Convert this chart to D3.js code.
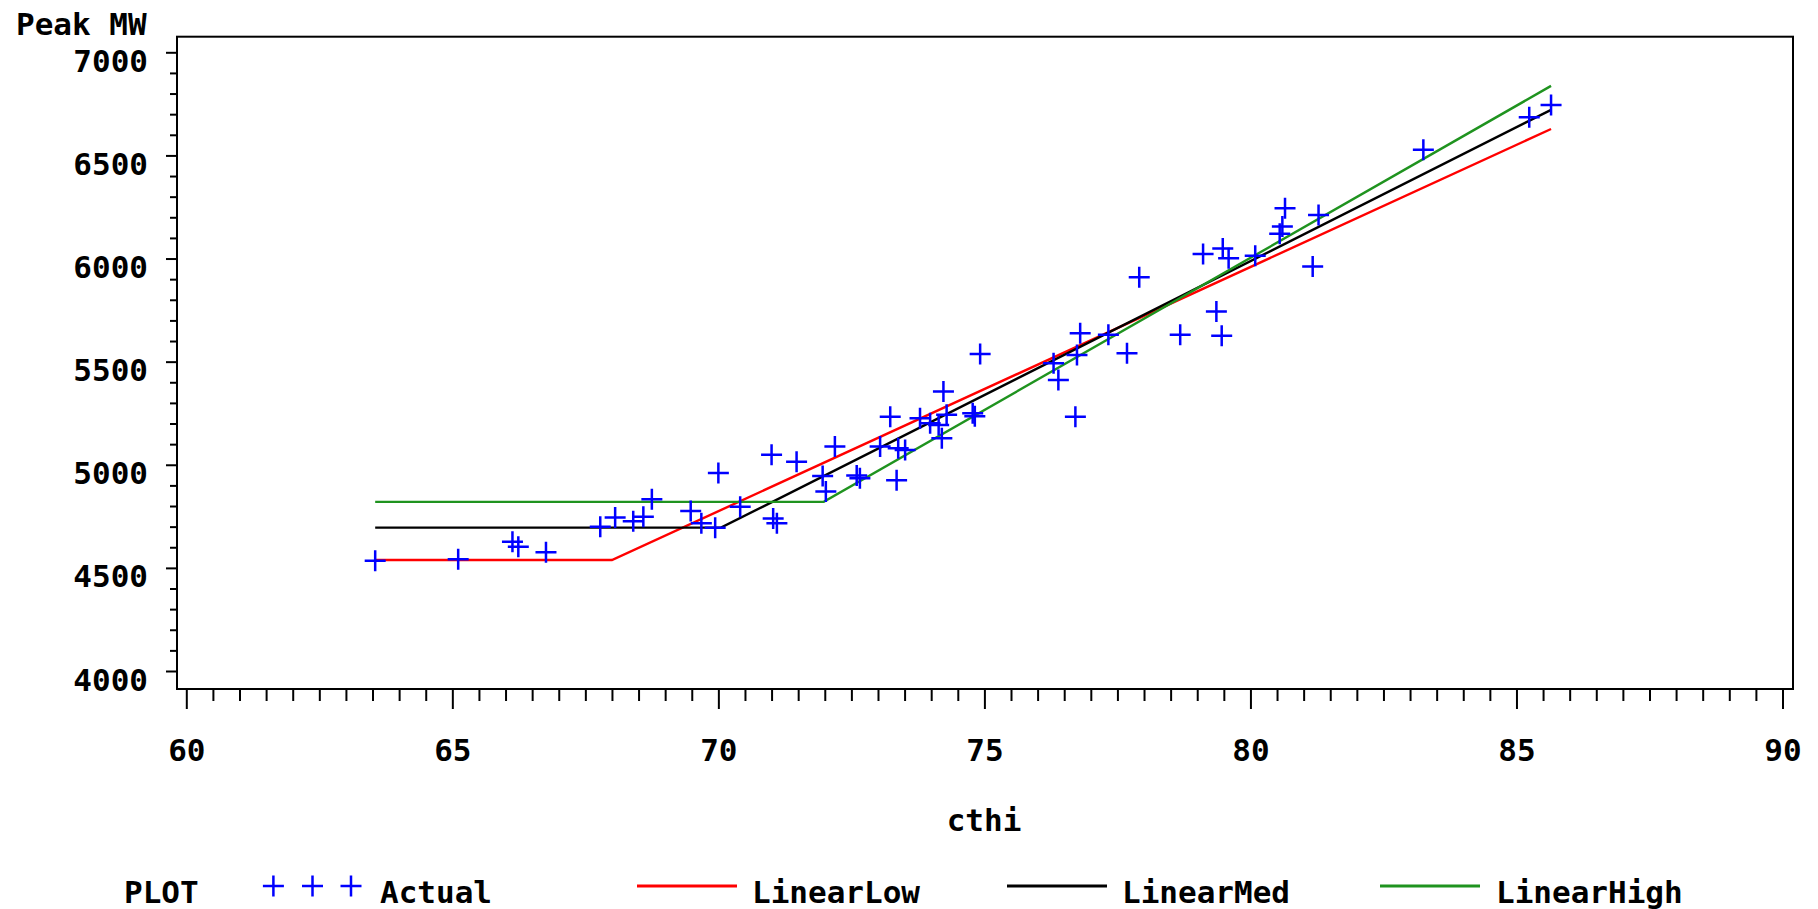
<!DOCTYPE html>
<html>
<head>
<meta charset="utf-8">
<script src="https://cdn.jsdelivr.net/npm/d3@7"></script>
<style>
  html, body { margin: 0; padding: 0; background: #ffffff; }
  svg { display: block; }
  text { font-family: "DejaVu Sans Mono", "Liberation Mono", monospace; font-weight: bold; fill: #000; }
</style>
</head>
<body>
<svg id="chart" width="1818" height="909"></svg>
<script>
// Observed daily peak load against cooling temperature-humidity index
const cthi = [
  63.55, 65.11, 66.13, 66.24, 66.76, 67.78, 68.06, 68.40, 68.59, 68.75,
  69.48, 69.68, 69.94, 70.00, 70.41, 71.00, 71.03, 71.10, 71.47, 71.96,
  72.02, 72.19, 72.60, 72.66, 73.04, 73.23, 73.35, 73.38, 73.51, 73.79,
  73.98, 74.14, 74.20, 74.23, 74.29, 74.78, 74.82, 74.92, 76.30, 76.39,
  76.71, 76.74, 76.80, 77.33, 77.68, 77.91, 78.68, 79.11, 79.36, 79.46,
  79.48, 79.59, 80.09, 80.55, 80.60, 80.65, 81.17, 81.28, 83.25, 85.24,
  85.65
];
const peakMW = [
  4535, 4542, 4627, 4603, 4576, 4700, 4744, 4726, 4748, 4833,
  4776, 4716, 4695, 4960, 4797, 5048, 4740, 4716, 5015, 4945,
  4870, 5088, 4948, 4935, 5088, 5233, 4925, 5080, 5072, 5225,
  5201, 5193, 5128, 5355, 5242, 5250, 5235, 5537, 5492, 5411,
  5233, 5532, 5638, 5630, 5541, 5909, 5630, 6022, 5743, 5626,
  6049, 6001, 6013, 6120, 6155, 6244, 5961, 6211, 6527, 6685,
  6745
];

// Piecewise-linear fits: flat base load, then a linear rise above a threshold
const lowX  = [63.55, 68.00, 85.65];
const lowY  = [4538, 4538, 6628];
const medX  = [63.55, 70.05, 85.65];
const medY  = [4695, 4695, 6721];
const highX = [63.55, 71.98, 85.65];
const highY = [4820, 4820, 6837];

const xTicks = [60, 65, 70, 75, 80, 85, 90];
const yTicks = [4000, 4500, 5000, 5500, 6000, 6500, 7000];
const seriesNames = ["Actual", "LinearLow", "LinearMed", "LinearHigh"];

const colors = { low: "#ff0000", med: "#000000", high: "#1f931f", pts: "#0000ff" };

const svg = d3.select("#chart");
const frame = { left: 177, top: 36.7, right: 1793, bottom: 689 };

const x = d3.scaleLinear().domain([60, 90]).range([186.3, 1782.5]);
const y = d3.scaleLinear().domain([4000, 7000]).range([671, 52.3]);

// plot frame
svg.append("rect")
  .attr("x", frame.left).attr("y", frame.top)
  .attr("width", frame.right - frame.left).attr("height", frame.bottom - frame.top)
  .attr("fill", "none").attr("stroke", "#000").attr("stroke-width", 2);

// x axis: minor ticks every 0.5, major every 5
const xMinor = d3.range(60, 90.01, 0.5).filter(v => v % 5 !== 0);
const gxMinor = svg.append("g").attr("transform", `translate(0,${frame.bottom})`)
  .call(d3.axisBottom(x).tickValues(xMinor).tickSize(12).tickFormat(""));
const gx = svg.append("g").attr("transform", `translate(0,${frame.bottom})`)
  .call(d3.axisBottom(x).tickValues(xTicks).tickSize(20).tickFormat(d3.format("d")));
[gxMinor, gx].forEach(g => {
  g.select(".domain").remove();
  g.selectAll("line").attr("stroke", "#000").attr("stroke-width", 2);
});
gx.selectAll("text")
  .attr("y", 72).attr("dy", 0)
  .style("font-size", "31px").attr("fill", "#000");

// y axis: minor ticks every 100, major every 500
const yMinor = d3.range(4000, 7000.1, 100).filter(v => v % 500 !== 0);
const gyMinor = svg.append("g").attr("transform", `translate(${frame.left},0)`)
  .call(d3.axisLeft(y).tickValues(yMinor).tickSize(7).tickFormat(""));
const gy = svg.append("g").attr("transform", `translate(${frame.left},0)`)
  .call(d3.axisLeft(y).tickValues(yTicks).tickSize(11).tickPadding(18).tickFormat(d3.format("d")));
[gyMinor, gy].forEach(g => {
  g.select(".domain").remove();
  g.selectAll("line").attr("stroke", "#000").attr("stroke-width", 2);
});
gy.selectAll("text")
  .attr("dy", 19)
  .style("font-size", "31px").attr("fill", "#000");

// axis titles
svg.append("text").attr("x", 16).attr("y", 35)
  .style("font-size", "31px").text("Peak MW");
svg.append("text").attr("x", 984).attr("y", 831).attr("text-anchor", "middle")
  .style("font-size", "31px").text("cthi");

// fitted lines
const line = d3.line().x(d => x(d[0])).y(d => y(d[1]));
const fits = [
  { xs: lowX, ys: lowY, color: colors.low },
  { xs: medX, ys: medY, color: colors.med },
  { xs: highX, ys: highY, color: colors.high }
];
fits.forEach(f => {
  svg.append("path")
    .datum(d3.zip(f.xs, f.ys))
    .attr("d", line)
    .attr("fill", "none")
    .attr("stroke", f.color)
    .attr("stroke-width", 2.4);
});

// plus markers for observations
const half = 10.5;
const plus = (cx, cy) => `M${cx - half},${cy}H${cx + half}M${cx},${cy - half}V${cy + half}`;
svg.append("g").selectAll("path")
  .data(d3.zip(cthi, peakMW))
  .join("path")
  .attr("d", d => plus(x(d[0]), y(d[1])))
  .attr("fill", "none")
  .attr("stroke", colors.pts)
  .attr("stroke-width", 2.5);

// legend
const ly = 886, lbase = 903;
const legend = svg.append("g");
legend.append("text").attr("x", 124).attr("y", lbase).style("font-size", "31px").text("PLOT");
[273.4, 312.5, 351].forEach(cx => {
  legend.append("path").attr("d", plus(cx, ly))
    .attr("fill", "none").attr("stroke", colors.pts).attr("stroke-width", 2.5);
});
legend.append("text").attr("x", 380).attr("y", lbase).style("font-size", "31px").text(seriesNames[0]);
const legendLines = [
  { x0: 637, x1: 737, tx: 752, color: colors.low, name: seriesNames[1] },
  { x0: 1007, x1: 1107, tx: 1122, color: colors.med, name: seriesNames[2] },
  { x0: 1380, x1: 1480, tx: 1496, color: colors.high, name: seriesNames[3] }
];
legendLines.forEach(l => {
  legend.append("line").attr("x1", l.x0).attr("x2", l.x1).attr("y1", ly).attr("y2", ly)
    .attr("stroke", l.color).attr("stroke-width", 3);
  legend.append("text").attr("x", l.tx).attr("y", lbase).style("font-size", "31px").text(l.name);
});
</script>
</body>
</html>
